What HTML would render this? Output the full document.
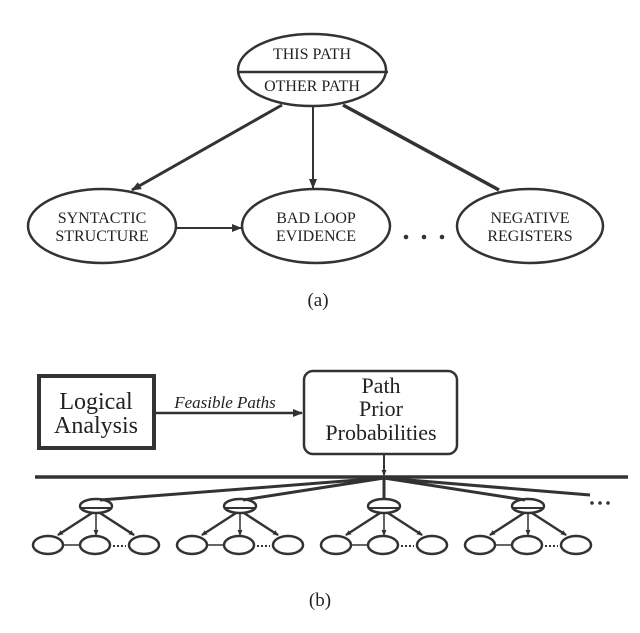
<!DOCTYPE html>
<html><head><style>
html,body{margin:0;padding:0;background:#fff;}
svg{display:block;}
text{font-family:"Liberation Serif",serif;fill:#222;}
</style></head><body>
<svg width="640" height="633" viewBox="0 0 640 633" xmlns="http://www.w3.org/2000/svg">
<defs>
<marker id="ah" markerWidth="10" markerHeight="8" refX="9" refY="4" orient="auto" markerUnits="userSpaceOnUse">
<path d="M0,0 L10,4 L0,8 z" fill="#333"/></marker>
<marker id="as" markerWidth="6" markerHeight="5" refX="5" refY="2.5" orient="auto" markerUnits="userSpaceOnUse">
<path d="M0,0 L6,2.5 L0,5 z" fill="#333"/></marker>
</defs>
<g stroke="#333" fill="none" stroke-width="2.5">
<ellipse cx="312" cy="70" rx="74" ry="36"/>
<line x1="238" y1="72" x2="388" y2="72"/>
<ellipse cx="102" cy="226" rx="74" ry="37"/>
<ellipse cx="316" cy="226" rx="74" ry="37"/>
<ellipse cx="530" cy="226" rx="73" ry="37"/>
<line x1="282" y1="105" x2="132" y2="190" stroke-width="3" marker-end="url(#ah)"/>
<line x1="313" y1="107" x2="313" y2="188" stroke-width="2" marker-end="url(#ah)"/>
<line x1="343" y1="105" x2="499" y2="190" stroke-width="3.5"/>
<line x1="177" y1="228" x2="241" y2="228" stroke-width="2" marker-end="url(#ah)"/>
</g>
<g fill="#333"><circle cx="406" cy="237" r="2.3"/><circle cx="424" cy="237" r="2.3"/><circle cx="442" cy="237" r="2.3"/></g>
<g font-size="16" text-anchor="middle">
<text x="312" y="59">THIS PATH</text>
<text x="312" y="91">OTHER PATH</text>
<text x="102" y="223">SYNTACTIC</text>
<text x="102" y="241">STRUCTURE</text>
<text x="316" y="223">BAD LOOP</text>
<text x="316" y="241">EVIDENCE</text>
<text x="530" y="223">NEGATIVE</text>
<text x="530" y="241">REGISTERS</text>
</g>
<text x="318" y="306" font-size="19" text-anchor="middle">(a)</text>

<rect x="39" y="376" width="115" height="72" fill="none" stroke="#333" stroke-width="4"/>
<text x="96" y="409" font-size="24" text-anchor="middle">Logical</text>
<text x="96" y="433" font-size="24" text-anchor="middle">Analysis</text>
<line x1="155" y1="413" x2="302" y2="413" stroke="#333" stroke-width="2.5" marker-end="url(#ah)"/>
<text x="225" y="408" font-size="17" font-style="italic" text-anchor="middle">Feasible Paths</text>
<rect x="304" y="371" width="153" height="83" rx="9" fill="none" stroke="#333" stroke-width="2.5"/>
<text x="381" y="393" font-size="22" text-anchor="middle">Path</text>
<text x="381" y="416" font-size="22" text-anchor="middle">Prior</text>
<text x="381" y="440" font-size="22" text-anchor="middle">Probabilities</text>
<line x1="384" y1="454" x2="384" y2="475" stroke="#333" stroke-width="2" marker-end="url(#as)"/>
<line x1="35" y1="477" x2="628" y2="477" stroke="#333" stroke-width="3.5"/>
<g stroke="#333" stroke-width="3" fill="none">
<line x1="384" y1="478" x2="100" y2="500"/>
<line x1="384" y1="478" x2="243" y2="500"/>
<line x1="384" y1="478" x2="384" y2="499"/>
<line x1="384" y1="478" x2="525" y2="500"/>
<line x1="384" y1="478" x2="590" y2="495"/>
</g>
<g fill="#333"><circle cx="592" cy="503" r="1.8"/><circle cx="600" cy="503" r="1.8"/><circle cx="608" cy="503" r="1.8"/></g>
<g id="grp" stroke="#333" fill="none" stroke-width="2.5">
<ellipse cx="96" cy="506" rx="16" ry="7"/>
<line x1="81" y1="508" x2="111" y2="508" stroke-width="2"/>
<line x1="92" y1="513" x2="58" y2="535" marker-end="url(#as)"/>
<line x1="96" y1="513" x2="96" y2="535" stroke-width="1.5" marker-end="url(#as)"/>
<line x1="100" y1="513" x2="134" y2="535" marker-end="url(#as)"/>
<ellipse cx="48" cy="545" rx="15" ry="9"/>
<ellipse cx="95" cy="545" rx="15" ry="9"/>
<ellipse cx="144" cy="545" rx="15" ry="9"/>
<line x1="63" y1="545" x2="80" y2="545" stroke-width="1.5"/>
<line x1="113" y1="546" x2="126" y2="546" stroke-width="2" stroke-dasharray="2 2"/>
</g>
<use href="#grp" x="144"/>
<use href="#grp" x="288"/>
<use href="#grp" x="432"/>
<text x="320" y="606" font-size="19" text-anchor="middle">(b)</text>
</svg>
</body></html>
